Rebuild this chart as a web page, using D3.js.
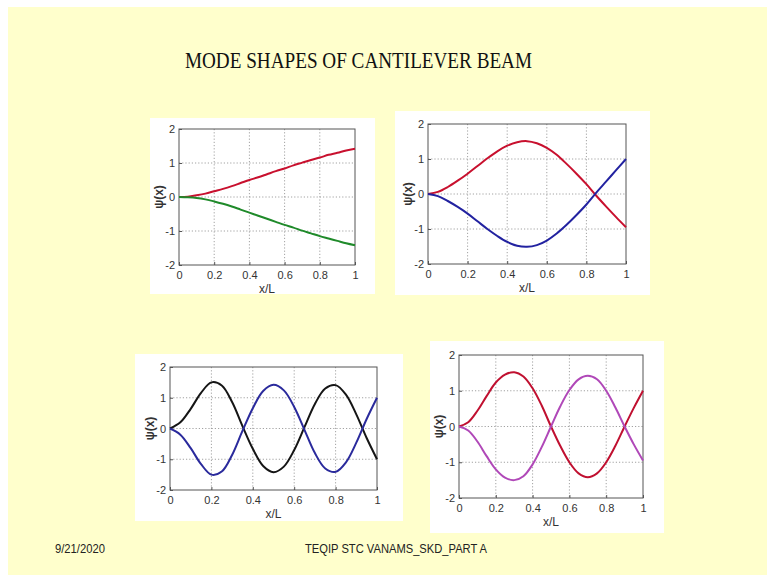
<!DOCTYPE html>
<html><head><meta charset="utf-8">
<script src="https://cdn.jsdelivr.net/npm/d3@7"></script>
<style>body{margin:0;background:#fff}svg{display:block}</style>
</head><body>
<script>
const title = "MODE SHAPES OF CANTILEVER BEAM";
const footerDate = "9/21/2020";
const footerText = "TEQIP STC VANAMS_SKD_PART A";
const xTicks = [0, 0.2, 0.4, 0.6, 0.8, 1];
const xTickLabels = ["0", "0.2", "0.4", "0.6", "0.8", "1"];
const yTicks = [-2, -1, 0, 1, 2];
const yTickLabels = ["-2", "-1", "0", "1", "2"];
const xs = [0,0.05,0.1,0.15,0.2,0.25,0.3,0.35,0.4,0.45,0.5,0.55,0.6,0.65,0.7,0.75,0.8,0.85,0.9,0.95,1];

const mode1a = [0,0.01,0.05,0.1,0.17,0.24,0.32,0.41,0.5,0.58,0.67,0.76,0.84,0.93,1.01,1.09,1.16,1.24,1.3,1.37,1.42];
const mode1b = [0,-0.01,-0.03,-0.07,-0.13,-0.2,-0.28,-0.37,-0.46,-0.55,-0.64,-0.73,-0.82,-0.9,-0.99,-1.07,-1.15,-1.22,-1.29,-1.36,-1.42];
const mode2a = [0,0.06,0.2,0.38,0.58,0.8,1.02,1.22,1.38,1.48,1.51,1.45,1.32,1.12,0.86,0.58,0.28,-0.05,-0.36,-0.66,-0.95];
const mode2b = [0,-0.06,-0.2,-0.37,-0.56,-0.78,-1.0,-1.2,-1.37,-1.48,-1.51,-1.46,-1.33,-1.13,-0.88,-0.6,-0.3,0.04,0.36,0.68,1.0];
const mode3a = [0,0.2,0.64,1.16,1.5,1.4,0.86,0.08,-0.66,-1.22,-1.42,-1.24,-0.7,0.05,0.8,1.3,1.41,1.1,0.46,-0.31,-1.0];
const mode3b = [0,-0.2,-0.64,-1.16,-1.5,-1.4,-0.86,-0.08,0.66,1.22,1.42,1.24,0.7,-0.05,-0.8,-1.3,-1.41,-1.1,-0.46,0.31,1.0];
const mode4a = [0,0.12,0.44,0.85,1.23,1.45,1.52,1.4,1.07,0.58,0.0,-0.54,-1.0,-1.31,-1.42,-1.31,-1.0,-0.54,0.0,0.52,1.0];
const mode4b = [0,-0.11,-0.42,-0.83,-1.2,-1.43,-1.5,-1.39,-1.06,-0.57,0.0,0.56,1.02,1.32,1.42,1.32,1.0,0.53,0.0,-0.5,-0.95];

const W = 767, H = 578;
const svg = d3.select("body").append("svg").attr("width", W).attr("height", H);
svg.append("rect").attr("x",0).attr("y",0).attr("width",W).attr("height",H).attr("fill","#fff");
svg.append("rect").attr("x",8).attr("y",7).attr("width",W-8).attr("height",H-10).attr("fill","#ffffcc");

svg.append("text").attr("x",185).attr("y",68).text(title)
  .attr("font-family","'Liberation Serif','Times New Roman',serif").attr("font-size",23)
  .attr("textLength",347).attr("lengthAdjust","spacingAndGlyphs").attr("fill","#111");
svg.append("text").attr("x",55).attr("y",553).text(footerDate)
  .attr("font-family","'Liberation Sans',Arial,sans-serif").attr("font-size",13)
  .attr("textLength",50).attr("lengthAdjust","spacingAndGlyphs").attr("fill","#222");
svg.append("text").attr("x",305).attr("y",553).text(footerText)
  .attr("font-family","'Liberation Sans',Arial,sans-serif").attr("font-size",13)
  .attr("textLength",182).attr("lengthAdjust","spacingAndGlyphs").attr("fill","#222");

const panels = [
  {box:[150,118,375,294], plot:[179,129,355,265], series:[[mode1a,"#c8102e"],[mode1b,"#1f8a2a"]]},
  {box:[395,111,650,295], plot:[428,124,626,264], series:[[mode2a,"#c8102e"],[mode2b,"#2222a0"]]},
  {box:[135,354,403,521], plot:[170,367,377,490], series:[[mode3a,"#151515"],[mode3b,"#2a2a9c"]]},
  {box:[430,341,664,533], plot:[459,355,643,498], series:[[mode4a,"#c01030"],[mode4b,"#b048b8"]]}
];

panels.forEach(p => {
  const [bx0,by0,bx1,by1] = p.box, [px0,py0,px1,py1] = p.plot;
  const g = svg.append("g");
  g.append("rect").attr("x",bx0).attr("y",by0).attr("width",bx1-bx0).attr("height",by1-by0).attr("fill","#fff");
  const x = d3.scaleLinear().domain([0,1]).range([px0,px1]);
  const y = d3.scaleLinear().domain([-2,2]).range([py1,py0]);
  g.selectAll(".gx").data(xTicks.slice(1,-1)).join("line")
    .attr("x1",d=>x(d)).attr("x2",d=>x(d)).attr("y1",py0).attr("y2",py1)
    .attr("stroke","#8a8a8a").attr("stroke-width",0.8).attr("stroke-dasharray","1.2,2");
  g.selectAll(".gy").data(yTicks.slice(1,-1)).join("line")
    .attr("y1",d=>y(d)).attr("y2",d=>y(d)).attr("x1",px0).attr("x2",px1)
    .attr("stroke","#8a8a8a").attr("stroke-width",0.8).attr("stroke-dasharray","1.2,2");
  const xa = g.append("g").attr("transform",`translate(0,${py1})`)
    .call(d3.axisBottom(x).tickValues(xTicks).tickFormat((d,i)=>xTickLabels[i]).tickSizeInner(-3).tickSizeOuter(0).tickPadding(6));
  const ya = g.append("g").attr("transform",`translate(${px0},0)`)
    .call(d3.axisLeft(y).tickValues(yTicks).tickFormat((d,i)=>yTickLabels[i]).tickSizeInner(-3).tickSizeOuter(0).tickPadding(4));
  [xa,ya].forEach(a => {
    a.select(".domain").remove();
    a.selectAll("line").attr("stroke","#555");
    a.selectAll("text").attr("font-family","'Liberation Sans',Arial,sans-serif").attr("font-size",11).attr("fill","#333");
  });
  g.append("rect").attr("x",px0).attr("y",py0).attr("width",px1-px0).attr("height",py1-py0)
    .attr("fill","none").attr("stroke","#555").attr("stroke-width",1);
  g.append("text").attr("x",(px0+px1)/2).attr("y",py1+28).attr("text-anchor","middle").text("x/L")
    .attr("font-family","'Liberation Sans',Arial,sans-serif").attr("font-size",12).attr("fill","#333");
  g.append("text").attr("transform",`translate(${px0-16},${(py0+py1)/2}) rotate(-90)`).attr("text-anchor","middle").text("ψ(x)")
    .attr("font-family","'Liberation Sans',Arial,sans-serif").attr("font-size",12).attr("font-weight","bold").attr("fill","#333");
  const line = d3.line().x((d,i)=>x(xs[i])).y(d=>y(d)).curve(d3.curveCatmullRom.alpha(0.5));
  p.series.forEach(([vals,col]) => {
    g.append("path").datum(vals).attr("d",line).attr("fill","none").attr("stroke",col).attr("stroke-width",2);
  });
});
</script>
</body></html>
